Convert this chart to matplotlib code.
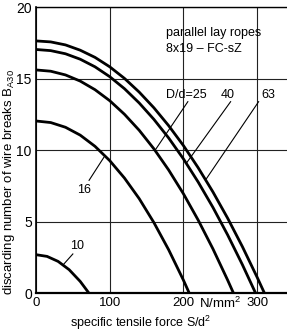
import matplotlib
matplotlib.use("Agg")
import matplotlib.pyplot as plt

plt.rcParams["font.family"] = ["Liberation Sans", "DejaVu Sans"]
plt.rcParams["mathtext.fontset"] = "custom"
plt.rcParams["mathtext.rm"] = "Liberation Sans"
plt.rcParams["mathtext.it"] = "Liberation Sans:italic"

# curves: specific tensile force S/d^2 -> B_A30
x63 = [0, 20, 40, 60, 80, 100, 120, 140, 160, 180, 200, 220, 240, 260, 280, 300, 310]
y63 = [17.65, 17.58, 17.37, 17.0, 16.5, 15.84, 15.03, 14.07, 12.97, 11.72, 10.33, 8.78, 7.09, 5.25, 3.26, 1.12, 0]

x40 = [0, 20, 40, 60, 80, 100, 120, 140, 160, 180, 200, 220, 240, 260, 280, 298]
y40 = [17.05, 16.97, 16.75, 16.37, 15.84, 15.15, 14.31, 13.31, 12.16, 10.86, 9.4, 7.78, 6.01, 4.08, 2.0, 0]

x25 = [0, 20, 40, 60, 80, 100, 120, 140, 160, 180, 200, 220, 240, 260, 268]
y25 = [15.62, 15.53, 15.27, 14.84, 14.24, 13.47, 12.52, 11.4, 10.1, 8.62, 6.96, 5.12, 3.11, 0.92, 0]

x16 = [0, 20, 40, 60, 80, 100, 120, 140, 160, 180, 200, 208]
y16 = [12.05, 11.94, 11.61, 11.06, 10.28, 9.28, 8.06, 6.62, 4.94, 3.04, 0.92, 0]

x10 = [0, 15, 30, 45, 60, 72]
y10 = [2.7, 2.58, 2.23, 1.65, 0.83, 0]

xticks = [0, 100, 200, 300]
yticks = [0, 5, 10, 15, 20]

fig = plt.figure(figsize=(2.87, 3.32), dpi=100)
ax = fig.add_axes([0.1254, 0.1166, 0.8746, 0.8614])

for xs, ys in [(x63, y63), (x40, y40), (x25, y25), (x16, y16), (x10, y10)]:
    ax.plot(xs, ys, color="black", lw=2.0, solid_capstyle="butt", zorder=3)

ax.set_xlim(0, 340.5)
ax.set_ylim(0, 20)
ax.set_xticks(xticks)
ax.set_yticks(yticks)
ax.tick_params(length=0, pad=3)
ax.tick_params(axis="x", labelsize=9.5)
ax.tick_params(axis="y", labelsize=10)
ax.grid(True, color="#222222", lw=0.8)
ax.spines["right"].set_visible(False)
ax.spines["left"].set_linewidth(1.2)
ax.spines["bottom"].set_linewidth(1.6)
ax.spines["top"].set_linewidth(1.0)

ax.set_xlabel(r"specific tensile force S/d$^2$", fontsize=9)
ax.xaxis.set_label_coords(0.416, -0.072)
ax.set_ylabel(r"discarding number of wire breaks B$_\mathrm{A30}$", fontsize=9.5)
ax.yaxis.set_label_coords(-0.074, 0.39)

ax.text(250, -0.034, r"N/mm$^2$", transform=ax.get_xaxis_transform(),
        ha="center", va="center", fontsize=9.5)

ax.text(177, 18.2, "parallel lay ropes", fontsize=9, va="center")
ax.text(177, 17.05, "8x19 – FC-sZ", fontsize=9, va="center")

ax.text(176, 13.9, "D/d=25", fontsize=9, va="center")
ax.text(260.5, 13.9, "40", fontsize=9, va="center", ha="center")
ax.text(315, 13.9, "63", fontsize=9, va="center", ha="center")
ax.text(65, 7.2, "16", fontsize=9, va="center", ha="center")
ax.text(56, 3.3, "10", fontsize=9, va="center", ha="center")

# leader lines
for (xa, ya), (xb, yb) in [((206, 13.4), (161.5, 10.0)),
                           ((264, 13.4), (204, 9.1)),
                           ((302, 13.4), (231, 8.0)),
                           ((72, 7.9), (92, 9.5)),
                           ((50, 2.75), (37, 2.0))]:
    ax.plot([xa, xb], [ya, yb], color="black", lw=0.8, zorder=3)

fig.savefig("out.png", dpi=100)
